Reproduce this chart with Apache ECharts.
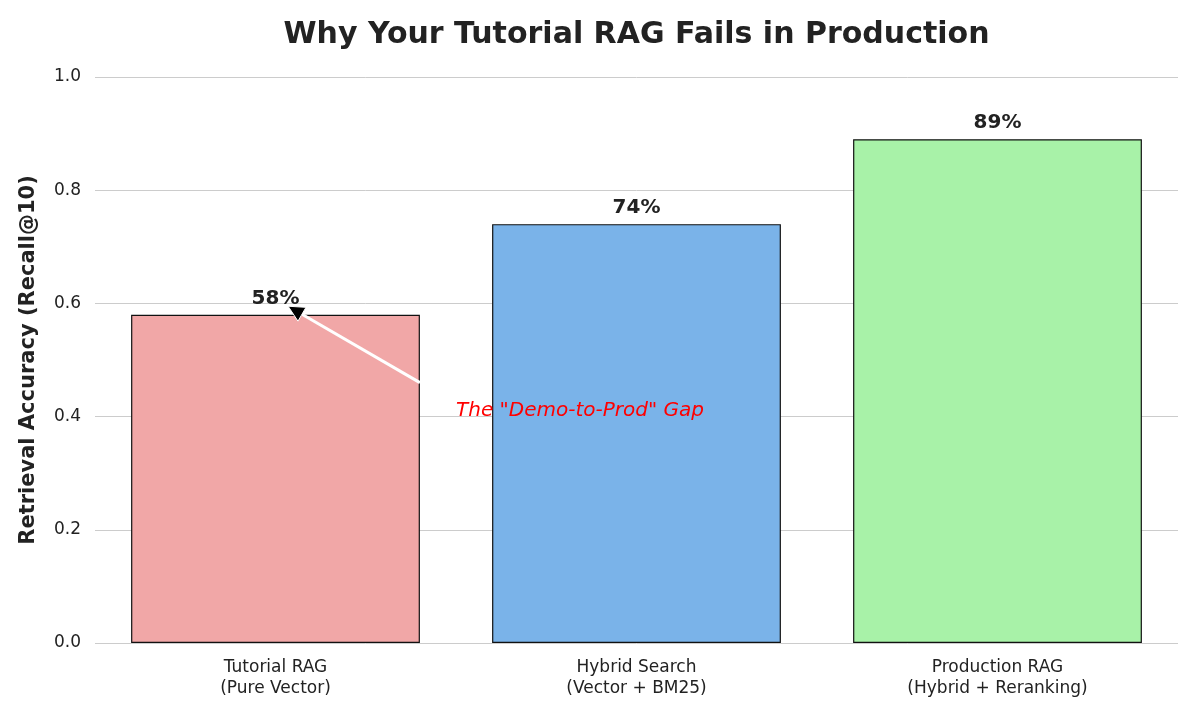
<!DOCTYPE html>
<html>
<head>
<meta charset="utf-8">
<script src="https://cdn.jsdelivr.net/npm/echarts@6/dist/echarts.min.js"></script>
<style>
  html, body { margin: 0; padding: 0; background: #fff; }
  #chart { width: 1200px; height: 720px; }
</style>
</head>
<body>
<div id="chart"></div>
<script>
// chart data
var categories = ['Tutorial RAG\n(Pure Vector)', 'Hybrid Search\n(Vector + BM25)', 'Production RAG\n(Hybrid + Reranking)'];
var recall = [0.58, 0.74, 0.89];
var barColors = ['#f1a7a7', '#7ab3e9', '#a8f2a8'];
var yTicks = [0, 0.2, 0.4, 0.6, 0.8, 1.0];

var chart = echarts.init(document.getElementById('chart'));

var font = '"DejaVu Sans", sans-serif';
var gridLeft = 95, gridRight = 22;

var option = {
  backgroundColor: '#fff',
  animation: false,
  title: {
    text: 'Why Your Tutorial RAG Fails in Production',
    // centred over the plot area, not the whole canvas
    left: gridLeft + (1200 - gridLeft - gridRight) / 2 - 5,
    textAlign: 'center',
    top: 15,
    textStyle: { fontFamily: font, fontSize: 30, fontWeight: 'bold', color: '#222' }
  },
  grid: { left: gridLeft, right: gridRight, top: 77, bottom: 77 },
  xAxis: {
    type: 'category',
    data: categories,
    axisLine: { show: false },
    axisTick: { show: false },
    axisLabel: { fontFamily: font, fontSize: 17, color: '#222', margin: 14, lineHeight: 21 }
  },
  yAxis: {
    type: 'value',
    min: 0,
    max: 1,
    interval: 0.2,
    name: 'Retrieval Accuracy (Recall@10)',
    nameLocation: 'middle',
    nameGap: 56,
    nameTextStyle: { fontFamily: font, fontSize: 21, fontWeight: 'bold', color: '#222' },
    axisLine: { show: false },
    axisTick: { show: false },
    axisLabel: {
      fontFamily: font, fontSize: 17, color: '#222', margin: 14,
      formatter: function (v) { return v.toFixed(1); }
    },
    splitLine: { lineStyle: { color: '#cccccc', width: 1 } }
  },
  series: [{
    type: 'bar',
    barWidth: '80%',
    data: recall.map(function (v, i) {
      return { value: v, itemStyle: { color: barColors[i] } };
    }),
    itemStyle: { borderColor: '#111', borderWidth: 1.2 },
    label: {
      show: true,
      position: 'top',
      distance: 6,
      fontFamily: font,
      fontSize: 20,
      fontWeight: 'bold',
      color: '#222',
      formatter: function (p) { return Math.round(p.value * 100) + '%'; }
    },
    z: 2
  }]
};

chart.setOption(option);

// annotation: arrow from the text toward the first bar's top
function addAnnotation() {
  var c0 = chart.convertToPixel({ xAxisIndex: 0 }, 0);
  var c1 = chart.convertToPixel({ xAxisIndex: 0 }, 1);
  var step = c1 - c0;
  function px(x, y) {
    return [c0 + x * step, chart.convertToPixel({ yAxisIndex: 0 }, y)];
  }
  var tip = px(0.035, 0.595);
  var start = px(0.40, 0.46);
  var dx = start[0] - tip[0], dy = start[1] - tip[1];
  var len = Math.sqrt(dx * dx + dy * dy);
  var ux = dx / len, uy = dy / len;
  var headLen = 16, headW = 8;
  var base = [tip[0] + ux * headLen, tip[1] + uy * headLen];
  var textPos = px(0.5, 0.41);
  chart.setOption({
    graphic: [
      {
        type: 'line',
        shape: { x1: start[0], y1: start[1], x2: base[0], y2: base[1] },
        style: { stroke: '#fff', lineWidth: 3 },
        z: 10
      },
      {
        type: 'polygon',
        shape: {
          points: [
            tip,
            [base[0] - uy * headW, base[1] + ux * headW],
            [base[0] + uy * headW, base[1] - ux * headW]
          ]
        },
        style: { fill: '#000', stroke: '#fff', lineWidth: 1 },
        z: 11
      },
      {
        type: 'text',
        x: textPos[0],
        y: textPos[1],
        style: {
          text: 'The "Demo-to-Prod" Gap',
          fill: '#ff0000',
          font: 'italic 20px "DejaVu Sans"',
          textAlign: 'left',
          textVerticalAlign: 'middle'
        },
        z: 12
      }
    ]
  });
}
addAnnotation();
</script>
</body>
</html>
